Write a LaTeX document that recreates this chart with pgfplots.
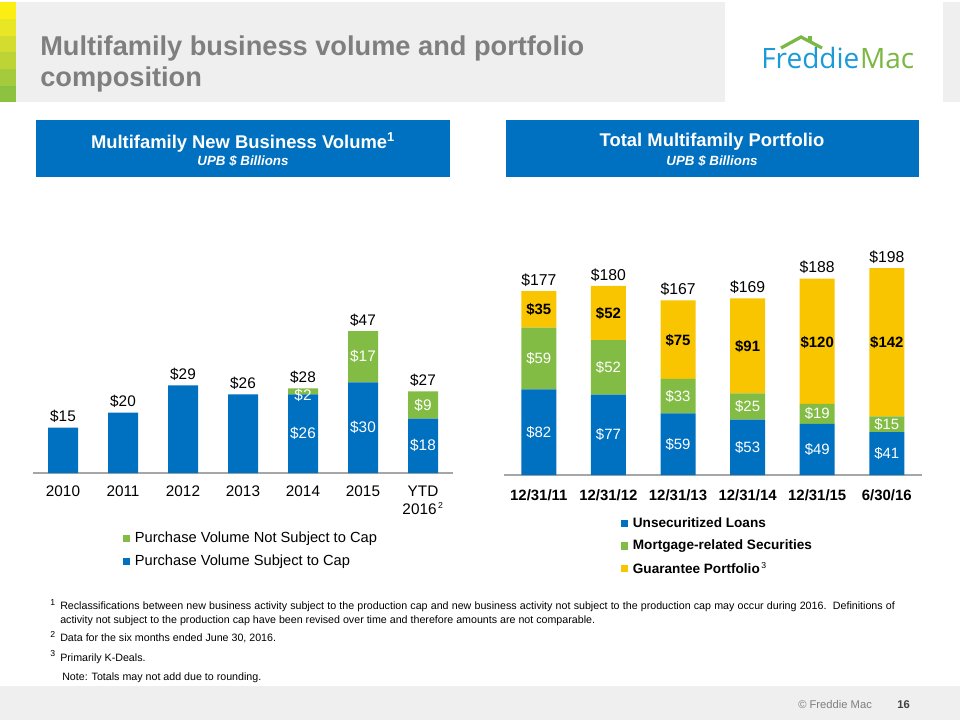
\documentclass[border=0pt]{standalone}
\usepackage{fontspec}
\setmainfont{Liberation Sans}
\newfontfamily\logofont{Open Sans}
\usepackage{pgfplots}
\pgfplotsset{compat=1.18}
\definecolor{fmblue}{HTML}{0070C0}
\definecolor{fmgreen}{HTML}{82BC44}
\definecolor{fmyellow}{HTML}{F8C500}
\definecolor{hdrblue}{HTML}{0070C0}
\definecolor{titlegray}{HTML}{7F7F7F}
\definecolor{bggray}{HTML}{EFEFEF}
\definecolor{axisgray}{HTML}{A6A6A6}
\definecolor{logoblue}{HTML}{1A9BD7}
\definecolor{logogreen}{HTML}{7AB743}
\definecolor{sa}{HTML}{FBEE13}
\definecolor{sb}{HTML}{E9E625}
\definecolor{sc}{HTML}{D3DD2F}
\definecolor{sd}{HTML}{BCD436}
\definecolor{se}{HTML}{A4CB3B}
\definecolor{sf}{HTML}{8CC23F}
\newcommand\fs[2]{\fontsize{#1}{#2}\selectfont}
\begin{document}
\begin{tikzpicture}
\begin{scope}[x=0.75pt,y=-0.75pt]
\useasboundingbox (0,0) rectangle (960,720);
\fill[white] (0,0) rectangle (960,720);
\fill[bggray] (16,2) rectangle (725,102);
\fill[bggray] (943,2) rectangle (960,102);
\fill[sa] (0,2) rectangle (16,19);
\fill[sb] (0,19) rectangle (16,36);
\fill[sc] (0,36) rectangle (16,52);
\fill[sd] (0,52) rectangle (16,69);
\fill[se] (0,69) rectangle (16,86);
\fill[sf] (0,86) rectangle (16,102);
\fill[bggray] (0,686) rectangle (960,720);
% title
\node[anchor=base west, inner sep=0, text=titlegray, font=\bfseries\fs{20.4}{24}] at (40,56) {Multifamily business volume and portfolio};
\node[anchor=base west, inner sep=0, text=titlegray, font=\bfseries\fs{20.4}{24}] at (40,87) {composition};
% logo
\node[anchor=base west, inner sep=0, font=\logofont\fs{21}{21}] at (761,69) {\textcolor{logoblue}{Freddie}\hspace{0.5pt}\textcolor{logogreen}{Mac}};
\draw[logogreen, line width=2.4pt, line join=miter] (781,48) -- (801,37) -- (822,48);
\draw[logogreen, line width=2.4pt] (810,36) -- (810,42);
% header boxes
\fill[hdrblue] (36,120) rectangle (450,177);
\node[text=white, font=\bfseries\fs{13.8}{16}] at (243,142) {Multifamily New Business Volume\textsuperscript{1}};
\node[text=white, font=\bfseries\itshape\fs{10}{12}] at (243,161) {UPB \$ Billions};
\fill[hdrblue] (506,120) rectangle (919,177);
\node[text=white, font=\bfseries\fs{13.8}{16}] at (712,142) {Total Multifamily Portfolio};
\node[text=white, font=\bfseries\itshape\fs{10}{12}] at (712,161) {UPB \$ Billions};
% footnotes
\node[anchor=base west, inner sep=0, font=\fs{6.5}{7}] at (50,605) {1};
\node[anchor=base west, inner sep=0, font=\fs{8}{9.6}] at (60,609.5) {\makebox[626pt][s]{Reclassifications between new business activity subject to the production cap and new business activity not subject to the production cap may occur during 2016.\ \ Definitions of}};
\node[anchor=base west, inner sep=0, font=\fs{8}{9.6}] at (60,623) {activity not subject to the production cap have been revised over time and therefore amounts are not comparable.};
\node[anchor=base west, inner sep=0, font=\fs{6.5}{7}] at (50,637) {2};
\node[anchor=base west, inner sep=0, font=\fs{8}{9.6}] at (60,641.5) {Data for the six months ended June 30, 2016.};
\node[anchor=base west, inner sep=0, font=\fs{6.5}{7}] at (50,656) {3};
\node[anchor=base west, inner sep=0, font=\fs{8}{9.6}] at (60,661) {Primarily K-Deals.};
\node[anchor=base west, inner sep=0, font=\fs{8}{9.6}] at (62,680) {Note: Totals may not add due to rounding.};
% bottom
\node[anchor=base west, inner sep=0, text=titlegray, font=\fs{8.4}{10}] at (798,708) {\textcopyright\ Freddie Mac};
\node[anchor=base west, inner sep=0, text=black!75, font=\bfseries\fs{8.4}{10}] at (897,708) {16};
\end{scope}

% ---------------- left chart ----------------
\begin{axis}[
  at={(24.75pt,-354.75pt)}, anchor=south west,
  x=45pt, y=2.265pt,
  xmin=-0.5, xmax=6.5, ymin=0, ymax=62,
  ybar stacked, bar width=22.5pt,
  axis y line=none, axis x line=bottom,
  x axis line style={-, draw=axisgray, line width=0.9pt},
  xtick={0,1,2,3,4,5,6},
  xticklabels={2010,2011,2012,2013,2014,2015,{YTD\\2016\textsuperscript{\fs{6.5}{7}\,2}}},
  xtick style={draw=none},
  xticklabel style={font=\fs{11.5}{13.5}, align=center, text=black, yshift=-4pt},
  ytick=\empty,
  legend image code/.code={\fill[#1] (0pt,-2.7pt) rectangle (5.4pt,2.7pt); \path (6.9pt,0pt);},
  reverse legend,
  legend cell align=left,
  legend style={at={(0.204,-0.285)}, anchor=north west, draw=none, fill=none, font=\fs{11}{13}, row sep=3.8pt},
]
\addplot[fill=fmblue, draw=none] coordinates {(0,15) (1,20) (2,29) (3,26) (4,26) (5,30) (6,18)};
\addplot[fill=fmgreen, draw=none] coordinates {(0,0) (1,0) (2,0) (3,0) (4,2) (5,17) (6,9)};
\legend{Purchase Volume Subject to Cap, Purchase Volume Not Subject to Cap}
\end{axis}
\begin{axis}[
  at={(24.75pt,-354.75pt)}, anchor=south west,
  x=45pt, y=2.265pt,
  xmin=-0.5, xmax=6.5, ymin=0, ymax=62,
  hide axis, clip=false,
]
\addplot[draw=none, mark=none, nodes near coords, point meta=explicit symbolic,
  every node near coord/.append style={font=\fs{11.5}{13}, text=black, anchor=south}]
  coordinates {(0,15)[\$15] (1,20)[\$20] (2,29)[\$29] (3,26)[\$26] (4,28)[\$28] (5,47)[\$47] (6,27)[\$27]};
\addplot[draw=none, mark=none, nodes near coords, point meta=explicit symbolic,
  every node near coord/.append style={font=\fs{11.5}{13}, text=white, anchor=center}]
  coordinates {(4,13)[\$26] (5,15)[\$30] (6,9)[\$18] (4,25.8)[\$2] (5,38.5)[\$17] (6,22.5)[\$9]};
\end{axis}

% ---------------- right chart ----------------
\begin{axis}[
  at={(378pt,-356.25pt)}, anchor=south west,
  x=52.2pt, y=0.78375pt,
  xmin=-0.5, xmax=5.5, ymin=0, ymax=205,
  ybar stacked, bar width=26.25pt,
  axis y line=none, axis x line=bottom,
  x axis line style={-, draw=axisgray, line width=0.9pt},
  xtick={0,1,2,3,4,5},
  xticklabels={12/31/11,12/31/12,12/31/13,12/31/14,12/31/15,6/30/16},
  xtick style={draw=none},
  xticklabel style={font=\bfseries\fs{11.2}{13}, text=black, yshift=-5pt},
  ytick=\empty,
  legend image code/.code={\fill[#1] (0pt,-2.7pt) rectangle (5.4pt,2.7pt); \path (6.9pt,0pt);},
  legend cell align=left,
  legend style={at={(0.27,-0.174)}, anchor=north west, draw=none, fill=none, font=\bfseries\fs{10.2}{12}, row sep=3.8pt},
]
\addplot[fill=fmblue, draw=none] coordinates {(0,82) (1,77) (2,59) (3,53) (4,49) (5,41)};
\addplot[fill=fmgreen, draw=none] coordinates {(0,59) (1,52) (2,33) (3,25) (4,19) (5,15)};
\addplot[fill=fmyellow, draw=none] coordinates {(0,35) (1,52) (2,75) (3,91) (4,120) (5,142)};
\legend{Unsecuritized Loans, Mortgage-related Securities, {Guarantee Portfolio\textsuperscript{\mdseries\fs{6.5}{7}\,3}}}
\end{axis}
\begin{axis}[
  at={(378pt,-356.25pt)}, anchor=south west,
  x=52.2pt, y=0.78375pt,
  xmin=-0.5, xmax=5.5, ymin=0, ymax=205,
  hide axis, clip=false,
]
\addplot[draw=none, mark=none, nodes near coords, point meta=explicit symbolic,
  every node near coord/.append style={font=\fs{11.8}{13}, text=black, anchor=south}]
  coordinates {(0,176)[\$177] (1,181)[\$180] (2,167)[\$167] (3,169)[\$169] (4,188)[\$188] (5,198)[\$198]};
\addplot[draw=none, mark=none, nodes near coords, point meta=explicit symbolic,
  every node near coord/.append style={font=\fs{11.2}{13}, text=white, anchor=center}]
  coordinates {(0,41)[\$82] (1,38.5)[\$77] (2,29.5)[\$59] (3,26.5)[\$53] (4,24.5)[\$49] (5,20.5)[\$41]
               (0,111.5)[\$59] (1,103)[\$52] (2,75.5)[\$33] (3,65.5)[\$25] (4,58.5)[\$19] (5,48.5)[\$15]};
\addplot[draw=none, mark=none, nodes near coords, point meta=explicit symbolic,
  every node near coord/.append style={font=\bfseries\fs{11.2}{13}, text=black, anchor=center}]
  coordinates {(0,158.5)[\$35] (1,155)[\$52] (2,129)[\$75] (3,122.5)[\$91] (4,127)[\$120] (5,127)[\$142]};
\end{axis}
\end{tikzpicture}
\end{document}
